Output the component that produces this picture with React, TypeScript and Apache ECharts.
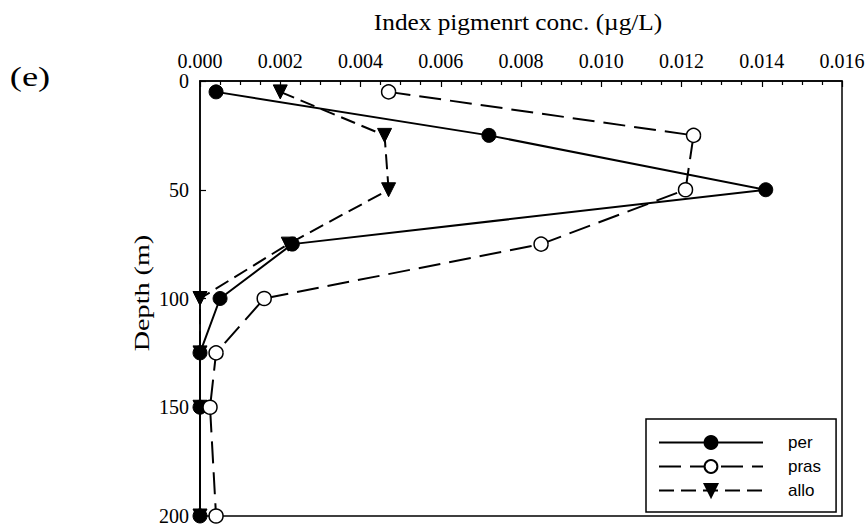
import React, { useEffect, useRef } from "react";
import * as echarts from "echarts";

const depths = [5, 25, 50, 75, 100, 125, 150, 200];
const perValues = [0.0004, 0.0072, 0.0141, 0.0023, 0.0005, 0, 0, 0];
const prasValues = [0.0047, 0.0123, 0.0121, 0.0085, 0.0016, 0.0004, 0.00025, 0.0004];
const alloValues = [0.002, 0.0046, 0.0047, 0.0022, 0, 0, 0, 0];
const seriesNames = ["per", "pras", "allo"];
const xTitle = "Index pigmenrt conc. (\u00b5g/L)";
const yTitle = "Depth (m)";
const panelLabel = "(e)";

const SERIF = "Liberation Serif";
const SANS = "Liberation Sans";

function pairs(values: number[]) {
  return values.map((v, i) => [v, depths[i]]);
}

export default function App() {
  const ref = useRef<HTMLDivElement>(null);
  useEffect(() => {
    if (!ref.current) return;
    const chart = echarts.init(ref.current, undefined, { renderer: "svg" });
    chart.setOption({
      animation: false,
      backgroundColor: "#fff",
      grid: {
        left: 200,
        right: 26,
        top: 81,
        bottom: 12,
        show: true,
        borderColor: "#000",
        borderWidth: 1.5,
        backgroundColor: "transparent",
      },
      xAxis: {
        type: "value",
        position: "top",
        min: 0,
        max: 0.016,
        interval: 0.002,
        axisLine: { show: true, lineStyle: { color: "#000", width: 1.5 } },
        axisTick: { show: true, inside: true, length: 6, lineStyle: { color: "#000", width: 1.2 } },
        minorTick: { show: true, splitNumber: 4, length: 4, lineStyle: { color: "#000", width: 1.2 } },
        splitLine: { show: false },
        minorSplitLine: { show: false },
        axisLabel: {
          color: "#000",
          fontFamily: SERIF,
          fontSize: 20,
          lineHeight: 14,
          margin: 13,
          formatter: (v: number) => v.toFixed(3),
        },
      },
      yAxis: {
        type: "value",
        inverse: true,
        min: 0,
        max: 200,
        interval: 50,
        axisLine: { show: true, lineStyle: { color: "#000", width: 1.5 } },
        axisTick: { show: true, inside: true, length: 6, lineStyle: { color: "#000", width: 1.2 } },
        splitLine: { show: false },
        axisLabel: {
          color: "#000",
          fontFamily: SERIF,
          fontSize: 20,
          lineHeight: 14,
          margin: 11,
        },
      },
      legend: {
        orient: "vertical",
        left: 646,
        top: 419,
        data: seriesNames,
        itemWidth: 104,
        itemHeight: 16,
        itemGap: 7,
        padding: [15, 15, 13, 12],
        borderColor: "#000",
        borderWidth: 1.5,
        backgroundColor: "#fff",
        textStyle: {
          color: "#000",
          fontFamily: SANS,
          fontSize: 17,
          lineHeight: 16,
          padding: [0, 0, 0, 20],
        },
      },
      graphic: [
        {
          type: "text",
          x: 518,
          y: 22,
          scaleX: 1.1,
          style: {
            text: xTitle,
            fontFamily: SERIF,
            fontSize: 23,
            fill: "#000",
            align: "center",
            verticalAlign: "middle",
          },
        },
        {
          type: "text",
          x: 141,
          y: 293,
          rotation: Math.PI / 2,
          scaleX: 1.28,
          style: {
            text: yTitle,
            fontFamily: SERIF,
            fontSize: 22,
            fill: "#000",
            align: "center",
            verticalAlign: "middle",
          },
        },
        {
          type: "text",
          x: 30,
          y: 77,
          scaleX: 1.3,
          style: {
            text: panelLabel,
            fontFamily: SERIF,
            fontSize: 28,
            fill: "#000",
            align: "center",
            verticalAlign: "middle",
          },
        },
      ],
      series: [
        {
          name: "per",
          type: "line",
          z: 3,
          data: pairs(perValues),
          symbol: "circle",
          symbolSize: 14,
          itemStyle: { color: "#000", borderColor: "#000", borderWidth: 1 },
          lineStyle: { color: "#000", width: 2, type: "solid" },
        },
        {
          name: "pras",
          type: "line",
          z: 4,
          data: pairs(prasValues),
          symbol: "circle",
          symbolSize: 14,
          itemStyle: { color: "#fff", borderColor: "#000", borderWidth: 1.5 },
          lineStyle: { color: "#000", width: 2, type: [22, 9] },
        },
        {
          name: "allo",
          type: "line",
          z: 2,
          data: pairs(alloValues),
          symbol: "triangle",
          symbolRotate: 180,
          symbolSize: 14,
          itemStyle: { color: "#000", borderColor: "#000", borderWidth: 1 },
          lineStyle: { color: "#000", width: 2, type: [15, 7] },
        },
      ],
    });
    return () => chart.dispose();
  }, []);
  return (
    <div
      ref={ref}
      style={{ position: "fixed", left: 0, top: 0, width: 868, height: 528, background: "#fff" }}
    />
  );
}
